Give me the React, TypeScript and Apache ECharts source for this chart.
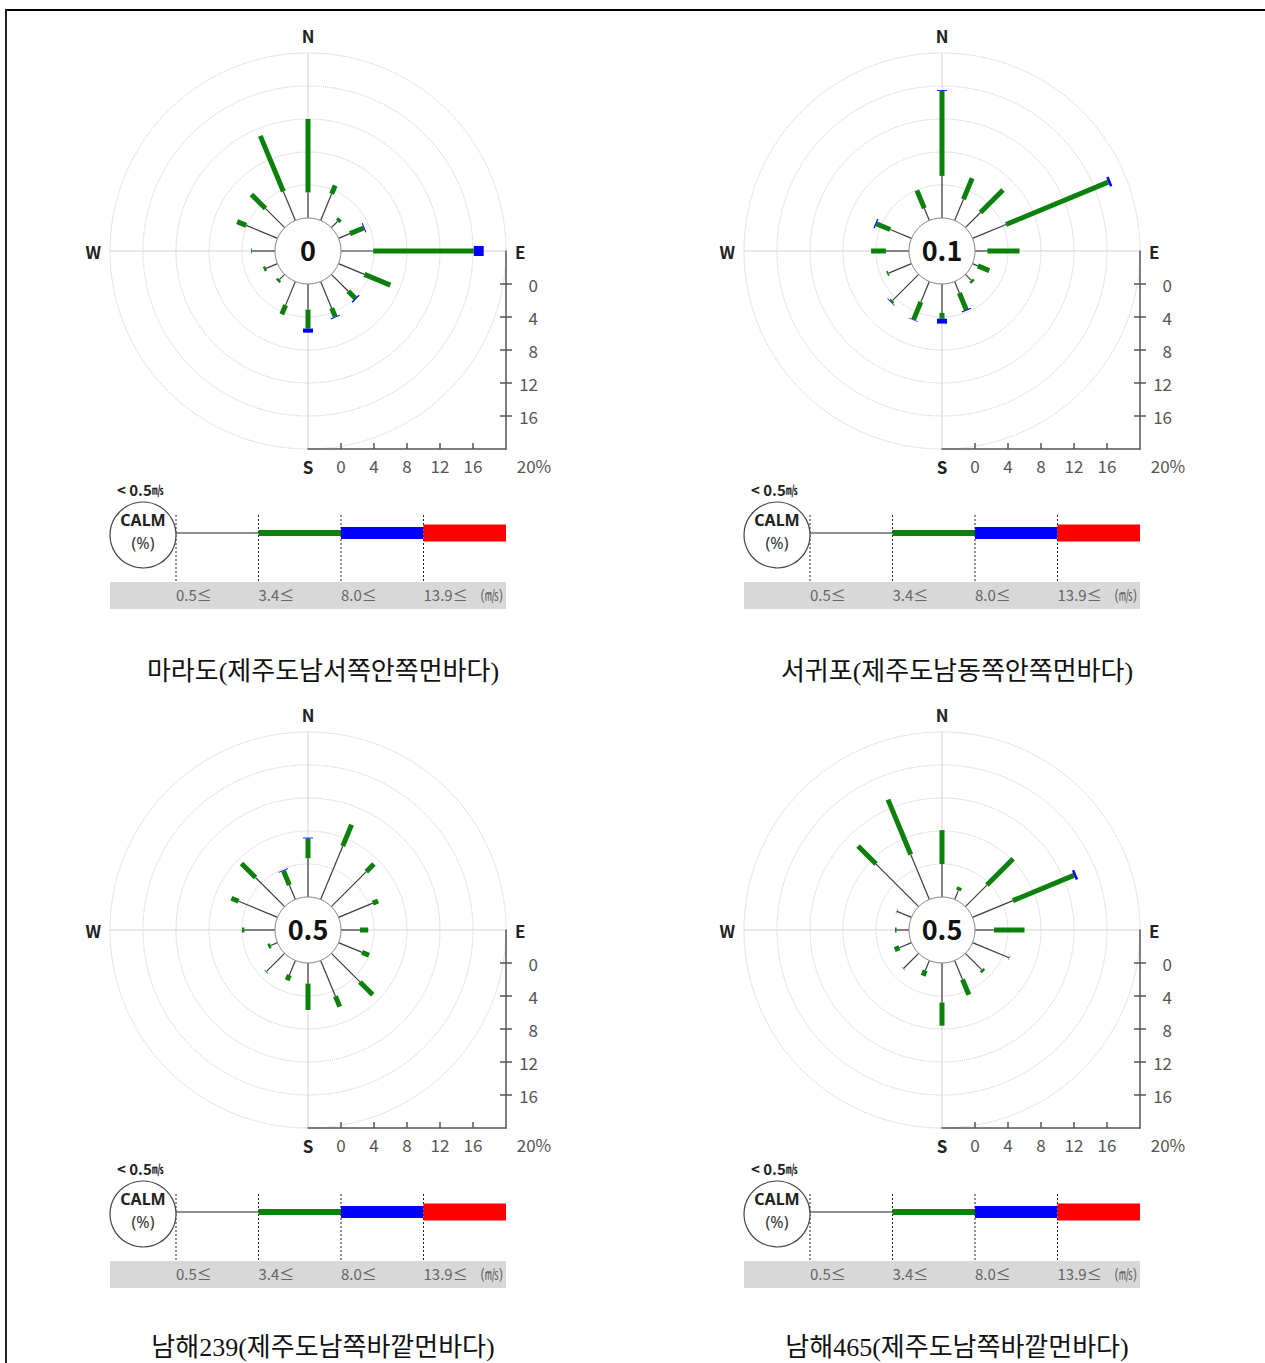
import React, { useEffect, useRef } from "react";
import * as echarts from "echarts";

// ---------- data ----------
const DIRECTIONS = ["N", "NNE", "NE", "ENE", "E", "ESE", "SE", "SSE", "S", "SSW", "SW", "WSW", "W", "WNW", "NW", "NNW"];
const COMPASS_LABELS: Record<number, string> = { 0: "N", 90: "E", 180: "S", 270: "W" };
const STATION_NAMES = [
  "마라도(제주도남서쪽안쪽먼바다)",
  "서귀포(제주도남동쪽안쪽먼바다)",
  "남해239(제주도남쪽바깥먼바다)",
  "남해465(제주도남쪽바깥먼바다)",
];
const CALM = [0, 0.1, 0.5, 0.5];
const SCALE_TICKS = [0, 4, 8, 12, 16];
const SPEED_BREAKS = ["0.5≤", "3.4≤", "8.0≤", "13.9≤"];

// frequency (%) by direction for each speed class: 0.5–3.4, 3.4–8.0, 8.0–13.9, ≥13.9 m/s
const MARADO_LIGHT = [3.1, 3.5, 1.1, 1.5, 3.9, 3.4, 2.9, 3.5, 3.1, 3.1, 0.9, 1.5, 2.8, 4.1, 3.3, 3.8];
const MARADO_MODERATE = [8.9, 1.1, 0.4, 1.8, 12.2, 3.4, 1.2, 1.1, 2.3, 1.2, 0.3, 0.3, 0.1, 1.2, 2.4, 7.3];
const MARADO_STRONG = [0, 0, 0, 0.12, 1.2, 0, 0.15, 0.12, 0.5, 0, 0, 0, 0, 0, 0, 0];
const MARADO_GALE = [0, 0, 0, 0, 0, 0, 0, 0, 0, 0, 0, 0, 0, 0, 0, 0];

const SEOGWIPO_LIGHT = [5.1, 2.8, 2.6, 4.4, 1.5, 0.7, 1.0, 1.5, 3.5, 2.7, 4.5, 3.0, 2.8, 2.8, 0, 1.6];
const SEOGWIPO_MODERATE = [10.3, 2.75, 3.85, 13.4, 3.9, 1.5, 0.3, 2.2, 0.7, 2.3, 0.2, 0.2, 1.8, 1.8, 0, 2.35];
const SEOGWIPO_STRONG = [0.1, 0, 0, 0.3, 0, 0, 0, 0.12, 0.6, 0.08, 0.08, 0, 0, 0.15, 0, 0];
const SEOGWIPO_GALE = [0, 0, 0, 0, 0, 0, 0, 0, 0, 0, 0, 0, 0, 0, 0, 0];

const NAMHAE239_LIGHT = [4.7, 7.0, 6.0, 4.5, 2.3, 3.1, 4.9, 4.7, 2.5, 1.9, 3.1, 0.9, 3.7, 5.1, 5.0, 1.9];
const NAMHAE239_MODERATE = [2.4, 2.8, 1.3, 0.7, 1.0, 0.9, 2.2, 1.35, 3.2, 0.7, 0.1, 0.3, 0.3, 0.95, 2.4, 1.85];
const NAMHAE239_STRONG = [0.1, 0, 0, 0, 0, 0, 0, 0, 0, 0, 0, 0, 0, 0, 0, 0.1];
const NAMHAE239_GALE = [0, 0, 0, 0, 0, 0, 0, 0, 0, 0, 0, 0, 0, 0, 0, 0];

const NAMHAE465_LIGHT = [4.0, 1.2, 3.7, 5.3, 2.3, 4.8, 2.8, 2.5, 4.8, 1.3, 2.6, 1.6, 1.5, 1.9, 7.3, 5.9];
const NAMHAE465_MODERATE = [4.1, 0.4, 4.5, 8.0, 3.7, 0.06, 0.3, 2.0, 2.8, 0.7, 0.06, 0.6, 0.2, 0.06, 3.1, 7.2];
const NAMHAE465_STRONG = [0, 0, 0, 0.3, 0, 0, 0, 0, 0, 0, 0, 0, 0, 0, 0, 0];
const NAMHAE465_GALE = [0, 0, 0, 0, 0, 0, 0, 0, 0, 0, 0, 0, 0, 0, 0, 0];

const STATION_CLASSES = [
  [MARADO_LIGHT, MARADO_MODERATE, MARADO_STRONG, MARADO_GALE],
  [SEOGWIPO_LIGHT, SEOGWIPO_MODERATE, SEOGWIPO_STRONG, SEOGWIPO_GALE],
  [NAMHAE239_LIGHT, NAMHAE239_MODERATE, NAMHAE239_STRONG, NAMHAE239_GALE],
  [NAMHAE465_LIGHT, NAMHAE465_MODERATE, NAMHAE465_STRONG, NAMHAE465_GALE],
];

// ---------- layout / style ----------
const CENTERS: [number, number][] = [
  [308, 251],
  [942, 251],
  [308, 930],
  [942, 930],
];
const TITLE_Y = [671, 671, 1347, 1347];
const ROSE_RADIUS = 198;
const SANS = '"Noto Sans CJK KR", "Noto Sans", sans-serif';
const LATIN = '"Noto Sans", sans-serif';
const CLASS_STYLES = [
  { stroke: "#3c3c3c", lineWidth: 1.2 },
  { stroke: "#0b800b", lineWidth: 5 },
  { stroke: "#0000ff", lineWidth: 10 },
  { stroke: "#ff0000", lineWidth: 16 },
];
const LEGEND_STYLES = [
  { stroke: "#6a6a6a", lineWidth: 1.5 },
  { stroke: "#0b800b", lineWidth: 6 },
  { stroke: "#0000ff", lineWidth: 12 },
  { stroke: "#ff0000", lineWidth: 17 },
];

function renderRose(_params: any, api: any) {
  const angle = api.value(0) as number;
  const children: any[] = [];
  let cum = 0;
  for (let k = 0; k < 4; k++) {
    const f = api.value(k + 1) as number;
    if (!(f > 0)) continue;
    const p0 = api.coord([cum, angle]);
    cum += f;
    const p1 = api.coord([cum, angle]);
    children.push({
      type: "line",
      shape: { x1: p0[0], y1: p0[1], x2: p1[0], y2: p1[1] },
      style: { ...CLASS_STYLES[k], lineCap: "butt" },
    });
  }
  return { type: "group", children };
}

function renderCalm(_params: any, api: any) {
  const c = api.coord([-4, 0]);
  const e = api.coord([0, 0]);
  const r = Math.hypot(e[0] - c[0], e[1] - c[1]);
  const v = api.value(0) as number;
  return {
    type: "group",
    children: [
      { type: "circle", shape: { cx: c[0], cy: c[1], r }, style: { fill: "#fff", stroke: "#8c8c8c", lineWidth: 1 } },
      {
        type: "text",
        style: {
          text: String(v),
          x: c[0],
          y: c[1] - 2,
          align: "center",
          verticalAlign: "middle",
          textAlign: "center",
          textVerticalAlign: "middle",
          font: `bold 27px ${SANS}`,
          fill: "#111",
        },
      },
    ],
  };
}

function txt(text: string, x: number, y: number, font: string, fill: string, align = "left", rich?: any) {
  return {
    type: "text",
    x,
    y,
    silent: true,
    style: {
      text,
      font,
      fill,
      align,
      verticalAlign: "middle",
      textAlign: align,
      textVerticalAlign: "middle",
      ...(rich ? { rich } : {}),
    },
  };
}

function legendElements(i: number) {
  const ox = CENTERS[i][0] - 308;
  const oy = CENTERS[i][1] - 251;
  const els: any[] = [];
  const breakX = [176, 258.5, 341, 423.5, 506].map((x) => x + ox);
  els.push({ type: "rect", shape: { x: 110 + ox, y: 582 + oy, width: 396, height: 27 }, style: { fill: "#d8d8d8" }, silent: true });
  for (let k = 0; k < 4; k++) {
    els.push({
      type: "line",
      shape: { x1: breakX[k], y1: 515 + oy, x2: breakX[k], y2: 582 + oy },
      style: { stroke: "#222", lineWidth: 1, lineDash: [2, 2] },
      silent: true,
    });
    els.push({
      type: "line",
      shape: { x1: breakX[k], y1: 533 + oy, x2: breakX[k + 1], y2: 533 + oy },
      style: { ...LEGEND_STYLES[k], lineCap: "butt" },
      silent: true,
    });
    els.push(txt(SPEED_BREAKS[k], breakX[k], 594 + oy, `15px ${SANS}`, "#666"));
  }
  els.push(txt("(㎧)", 480 + ox, 594 + oy, `14px ${SANS}`, "#666"));
  els.push({ type: "circle", shape: { cx: 143 + ox, cy: 535 + oy, r: 33 }, style: { fill: "#fff", stroke: "#444", lineWidth: 1.2 }, silent: true });
  els.push(txt("CALM", 143 + ox, 520 + oy, `bold 16px ${LATIN}`, "#222", "center"));
  els.push(txt("(%)", 143 + ox, 543 + oy, `16px ${LATIN}`, "#333", "center"));
  els.push(
    txt("{a|< 0.5}{b|㎧}", 117 + ox, 489 + oy, `bold 15px ${SANS}`, "#222", "left", {
      a: { font: `bold 15px ${SANS}`, fill: "#222" },
      b: { font: `bold 12px ${SANS}`, fill: "#222" },
    })
  );
  els.push(txt(STATION_NAMES[i], CENTERS[i][0] + 15, TITLE_Y[i], `26px "Liberation Serif", "Noto Sans CJK KR", serif`, "#111", "center"));
  return els;
}

function buildOption() {
  const axisColor = "#555";
  const polar = CENTERS.map((c) => ({ center: [c[0], c[1]], radius: ROSE_RADIUS }));
  const angleAxis = CENTERS.map((_, i) => ({
    polarIndex: i,
    type: "value",
    min: 0,
    max: 360,
    interval: 90,
    startAngle: 90,
    clockwise: true,
    axisLine: { show: false },
    axisTick: { show: false },
    axisLabel: {
      margin: 9,
      fontSize: 17,
      fontWeight: "bold",
      color: "#222",
      fontFamily: SANS,
      formatter: (v: number) => COMPASS_LABELS[v] ?? "",
    },
    splitLine: { show: true, lineStyle: { color: "#d2d2d2", width: 1 } },
  }));
  const radiusAxis = CENTERS.map((_, i) => ({
    polarIndex: i,
    type: "value",
    min: -4,
    max: 20,
    interval: 4,
    axisLine: { show: false },
    axisTick: { show: false },
    axisLabel: { show: false },
    splitLine: { show: true, lineStyle: { color: "#c6c6c6", type: "dotted", width: 1 } },
  }));
  const grid = CENTERS.map((c) => ({ left: c[0], top: c[1], width: ROSE_RADIUS, height: ROSE_RADIUS }));
  const labelStyle = { color: axisColor, fontSize: 17, fontFamily: SANS };
  const xAxis = CENTERS.map((_, i) => ({
    gridIndex: i,
    type: "value",
    min: -4,
    max: 20,
    position: "bottom",
    axisLine: { show: true, onZero: false, lineStyle: { color: axisColor, width: 1.5 } },
    axisTick: { show: true, inside: true, length: 6, customValues: SCALE_TICKS, lineStyle: { color: axisColor, width: 1.5 } },
    axisLabel: {
      ...labelStyle,
      margin: 8,
      customValues: [...SCALE_TICKS, 20],
      formatter: (v: number) => (v === 20 ? "{p|20%}" : String(v)),
      rich: { p: { ...labelStyle, padding: [0, 0, 0, 56] } },
    },
    splitLine: { show: false },
  }));
  const yAxis: any[] = [];
  CENTERS.forEach((_, i) => {
    yAxis.push({
      gridIndex: i,
      type: "value",
      min: -4,
      max: 20,
      inverse: true,
      position: "right",
      axisLine: { show: true, onZero: false, lineStyle: { color: axisColor, width: 1.5 } },
      axisTick: { show: true, inside: false, length: 6, customValues: SCALE_TICKS, lineStyle: { color: axisColor, width: 1.5 } },
      axisLabel: { ...labelStyle, align: "right", margin: 32, customValues: SCALE_TICKS },
      splitLine: { show: false },
    });
    yAxis.push({
      gridIndex: i,
      type: "value",
      min: -4,
      max: 20,
      inverse: true,
      position: "right",
      axisLine: { show: false, onZero: false },
      axisTick: { show: true, inside: true, length: 6, customValues: SCALE_TICKS, lineStyle: { color: axisColor, width: 1.5 } },
      axisLabel: { show: false },
      splitLine: { show: false },
    });
  });

  const series: any[] = [];
  STATION_CLASSES.forEach((classes, i) => {
    series.push({
      type: "custom",
      name: STATION_NAMES[i],
      coordinateSystem: "polar",
      polarIndex: i,
      encode: { angle: 0, radius: 1 },
      renderItem: renderRose,
      data: DIRECTIONS.map((_, k) => [k * 22.5, classes[0][k], classes[1][k], classes[2][k], classes[3][k]]),
      silent: true,
    });
    series.push({
      type: "custom",
      name: STATION_NAMES[i] + " calm",
      coordinateSystem: "polar",
      polarIndex: i,
      encode: { radius: 0 },
      renderItem: renderCalm,
      data: [[CALM[i]]],
      silent: true,
      z: 3,
    });
  });

  const graphicEls: any[] = [
    { type: "line", shape: { x1: 5, y1: 10, x2: 1265, y2: 10 }, style: { stroke: "#000", lineWidth: 2 }, silent: true },
    { type: "line", shape: { x1: 6, y1: 9, x2: 6, y2: 1363 }, style: { stroke: "#222", lineWidth: 2 }, silent: true },
  ];
  CENTERS.forEach((_, i) => graphicEls.push(...legendElements(i)));

  return {
    animation: false,
    backgroundColor: "#fff",
    polar,
    angleAxis,
    radiusAxis,
    grid,
    xAxis,
    yAxis,
    series,
    graphic: { elements: graphicEls },
  };
}

export default function App() {
  const ref = useRef<HTMLDivElement>(null);
  useEffect(() => {
    if (!ref.current) return;
    const chart = echarts.init(ref.current, null, { renderer: "svg" });
    chart.setOption(buildOption() as any);
    return () => chart.dispose();
  }, []);
  return (
    <div
      ref={ref}
      style={{ position: "absolute", left: 0, top: 0, width: 1265, height: 1363, background: "#fff" }}
    />
  );
}
